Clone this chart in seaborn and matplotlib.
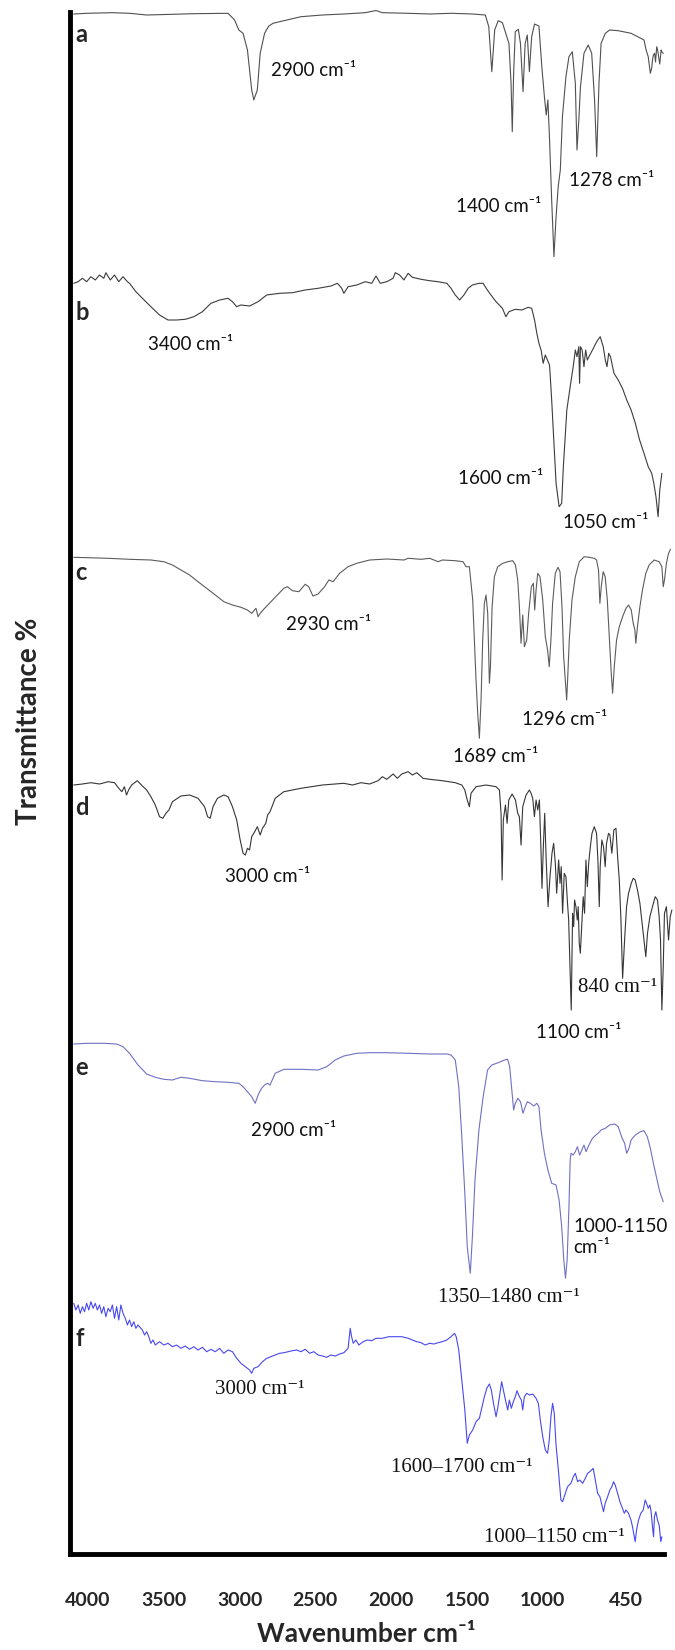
import numpy as np
import pandas as pd
import matplotlib
matplotlib.use("Agg")
import matplotlib.pyplot as plt
import seaborn as sns

# ---------------- data ----------------
samples = ["a", "b", "c", "d", "e", "f"]
# vertical offsets used to stack the six spectra (a.u.)
offsets = [1254, 1004, 734, 484, 234, -16]
colors = ["#505050", "#3c3c3c", "#5c5c5c", "#363636", "#7070c4", "#4848f0"]

wn_a = [4094, 4009, 3839, 3726, 3613, 3443, 3302, 3076, 3033, 3005, 2977, 2948, 2920, 2906, 2883,
        2864, 2835, 2807, 2779, 2736, 2595, 2453, 2312, 2171, 2100, 2058, 1888, 1746, 1605, 1464,
        1379, 1356, 1336, 1317, 1294, 1266, 1237, 1223, 1209, 1201, 1192, 1181, 1161, 1147, 1130,
        1116, 1102, 1088, 1073, 1054, 1025, 1006, 989, 977, 966, 955, 941, 926, 912, 898, 884, 870,
        847, 827, 805, 785, 774, 762, 751, 728, 700, 677, 658, 644, 629, 615, 587, 559, 502, 417,
        332, 318, 304, 298, 290, 281, 276, 270, 262, 256, 248, 242, 234, 228, 219, 214, 205]
tr_a = [286, 286.7, 287.3, 286.7, 285, 285.7, 286.3, 286.7, 280, 270, 266.7, 250, 210, 200, 210,
        246.7, 266.7, 274, 276.7, 278.3, 283.3, 285, 286, 287.3, 289.5, 287.3, 286.7, 286, 286.7, 286,
        285, 273.3, 228.3, 270, 279.3, 277.3, 263.3, 256.7, 216.7, 168.3, 226.7, 268.3, 270.7, 256.7, 208.3,
        256.7, 265, 228.3, 263.3, 276, 274, 233.3, 203.3, 185, 200, 160, 100, 43.3, 83.3, 113.3, 130, 183.3,
        223.3, 243.3, 248.3, 216.7, 150, 180, 213.3, 246.7, 255, 246.7, 200, 143.3, 216.7, 256.7, 266.7, 270, 269.3, 266.7,
        260, 250, 243.3, 236, 226.7, 232, 240, 245, 246.7, 238, 253.3, 250, 241.7, 236, 250, 248, 246.7]

wn_b = [4094, 4065, 4037, 4009, 3981, 3952, 3924, 3896, 3882, 3853, 3825, 3797, 3769, 3740, 3726,
        3684, 3641, 3585, 3528, 3472, 3415, 3358, 3302, 3245, 3189, 3132, 3076, 3047, 3019, 2991,
        2934, 2878, 2821, 2736, 2651, 2567, 2482, 2397, 2355, 2326, 2312, 2284, 2227, 2171, 2128,
        2100, 2072, 2029, 1987, 1973, 1944, 1916, 1888, 1860, 1803, 1746, 1690, 1633, 1605, 1577,
        1548, 1520, 1492, 1464, 1421, 1393, 1373, 1350, 1308, 1266, 1243, 1223, 1181, 1138, 1096,
        1073, 1054, 1039, 1025, 1011, 997, 983, 969, 955, 941, 926, 912, 892, 875, 864, 841, 819,
        799, 785, 774, 762, 757, 751, 740, 728, 717, 706, 695, 672, 644, 621, 601, 587, 576, 565,
        553, 530, 502, 474, 446, 417, 389, 361, 332, 304, 281, 267, 253, 239, 228, 214]
tr_b = [266.7, 268.3, 271.7, 268.3, 273.3, 270, 275, 271.7, 277.3, 270, 275, 268.3, 273.3, 268.3, 266.7,
        258.3, 251.7, 243.3, 235, 230, 230, 230.7, 233.3, 238.3, 246.7, 250, 251.7, 248.3, 243.3, 245,
        244, 248.3, 255, 256.7, 257.3, 260, 261.7, 264, 266.7, 261.7, 256.7, 263.3, 265, 268.3, 266.7,
        274, 266.7, 268.3, 271.7, 277.3, 275, 270, 276.7, 272.7, 270.7, 269.3, 268.3, 266.7, 261.7, 255,
        250, 255, 261.7, 265, 266.7, 266.7, 261.7, 256.7, 248.3, 241.7, 233.3, 238.3, 240.7, 240, 242.7,
        241.7, 230, 216.7, 206.7, 200, 186.7, 195, 190, 185, 150, 106.7, 66.7, 43.3, 46.7, 83.3, 140, 163.3,
        183.3, 200, 193.3, 203.3, 166.7, 203.3, 200, 183.3, 200, 190, 193.3, 200, 208.3, 213.3, 203.3, 190, 183.3, 196.7,
        193.3, 176.7, 170, 161.7, 150, 140, 126.7, 110, 96.7, 83.3, 76.7, 66.7, 53.3, 33.3, 60, 76.7]

wn_c = [4094, 4009, 3867, 3726, 3585, 3500, 3443, 3387, 3330, 3274, 3217, 3160, 3104, 3047, 2991,
        2948, 2920, 2892, 2878, 2864, 2835, 2793, 2750, 2708, 2685, 2651, 2609, 2567, 2544, 2516,
        2482, 2439, 2411, 2383, 2340, 2284, 2227, 2142, 2029, 1916, 1888, 1803, 1746, 1690, 1662,
        1577, 1526, 1506,
        1484, 1473, 1462, 1451, 1440, 1429, 1418, 1407, 1396, 1385, 1374, 1363, 1352, 1345, 1334,
        1319, 1297, 1264, 1231, 1198, 1180, 1165, 1154, 1143, 1132, 1121, 1106, 1093, 1075, 1062,
        1053, 1044, 1033, 1018, 1000, 983, 968, 957, 946, 935, 917, 899, 886, 873, 862, 851, 842,
        834, 825, 807, 785, 759, 726, 693, 660, 645, 632, 623, 614, 601, 588, 574, 561, 548, 539,
        528, 513, 495, 473, 451, 434, 416, 403, 392, 386, 375, 359, 342, 320, 298, 265, 232, 214,
        205, 197, 184, 170, 157]
tr_c = [262.7, 262.3, 261.7, 260.7, 260, 258.3, 255, 250, 245, 238.3, 231.7, 225, 218.3, 215, 212.7,
        210, 206.7, 211.7, 203.3, 206.7, 211.7, 218.3, 225, 231.7, 233.3, 229.3, 228.3, 235.7, 233.3, 224,
        226, 233.3, 240, 238.3, 246.7, 253.3, 256.7, 260, 261, 260, 261.7, 260.7, 261.7, 258.3, 260,
        259.3, 258.3, 253.3,
        253.3, 236.7, 220, 180, 140, 106.7, 81.7, 120, 180, 216.7, 225, 206.7, 136.7, 153.3, 213.3,
        243.3, 253.3, 256.7, 258.3, 259.3, 255, 240, 213.3, 176.7, 205, 173.3, 180, 206.7, 233.3, 236.7,
        210, 230, 246.7, 243.3, 220, 183.3, 170, 153.3, 180, 216.7, 246.7, 252.7, 248.3, 213.3, 163.3, 140, 120,
        146.7, 180, 220, 243.3, 258.3, 263.3, 262.7, 261.7, 260, 250, 216.7, 233.3, 248.3, 243.3, 220, 183.3, 146.7, 126.7,
        153.3, 180, 193.3, 203.3, 211.7, 215, 210, 196.7, 190, 176.7, 193.3, 213.3, 230, 246.7, 255, 260, 258.3, 253.3,
        233.3, 240, 256.7, 266.7, 270.7]

wn_d = [4094, 4037, 3981, 3924, 3867, 3825, 3797, 3777, 3760, 3746, 3732, 3712, 3675, 3641, 3613,
        3585, 3556, 3528, 3506, 3486, 3466, 3443, 3387, 3330, 3274, 3231, 3211, 3194, 3175, 3146,
        3104, 3076, 3047, 3019, 2996, 2977, 2962, 2948, 2934, 2920, 2900, 2883, 2864, 2849, 2827,
        2815, 2799, 2765, 2708, 2595, 2453, 2312, 2255, 2199, 2142, 2086, 2058, 2029, 1987, 1959,
        1930, 1888, 1860, 1831, 1789, 1746, 1662, 1577, 1534, 1514, 1498,
        1484, 1473, 1440, 1374, 1308, 1286, 1275, 1268, 1260, 1246, 1235, 1224, 1202, 1180, 1165,
        1154, 1143, 1132, 1110, 1088, 1077, 1066, 1055, 1044, 1033, 1022, 1011, 1005, 996, 987,
        978, 965, 952, 939, 928, 917, 908, 895, 886, 878, 869, 858, 847, 838, 829, 820, 812, 803,
        796, 790, 781, 772, 766, 759, 752, 741, 733, 724, 715, 706, 697, 686, 675, 660, 645, 636,
        627, 621, 610, 599, 588, 579, 566, 557, 544, 531, 517, 506, 495, 484, 473, 460, 447, 434,
        416, 403, 390, 375, 359, 342, 320, 309, 293, 276, 258, 243, 232, 223, 214, 205, 197, 184,
        170, 159, 148]
tr_d = [285, 286, 287.3, 286, 288.3, 287.3, 281.7, 278.3, 283.3, 275, 280, 285, 289.3, 284, 280,
        273.3, 265, 253.3, 251.7, 256.7, 260, 268.3, 274, 275, 271.7, 263.3, 253.3, 251.7, 263.3, 271.7,
        275, 273.3, 263.3, 250, 230, 216.7, 215, 221.7, 220, 233.3, 238.3, 243.3, 235, 241.7, 246.7,
        255, 258.3, 271.7, 278.3, 281.7, 285, 286.7, 285, 287.3, 286, 289.3, 293.3, 290.7, 296, 291.7,
        296, 298.3, 295, 297.3, 291.7, 290.7, 289.3, 287.3, 285, 280, 270,
        263.3, 276.7, 283.3, 285, 283.3, 280, 256.7, 190, 250, 265, 246.7, 270, 276, 270, 256.7,
        253.3, 225, 263.3, 275, 280, 276.7, 271.7, 253.3, 270, 260, 270, 216.7, 181.7, 223.3, 256.7,
        213.3, 163.3, 193.3, 216.7, 226.7, 206.7, 176.7, 210, 186.7, 203.3, 156.7, 196.7, 193.3, 170, 150, 103.3, 60, 156.7,
        143.3, 170, 163.3, 150, 163.3, 126.7, 116.7, 150, 173.3, 156.7, 210, 183.3, 206.7, 223.3, 236.7, 243.3, 236.7, 210,
        163.3, 203.3, 230, 223.3, 203.3, 226.7, 236.7, 235, 216.7, 240, 241.7, 213.3, 190, 150, 91.7, 130, 163.3, 176.7,
        186.7, 191.7, 190, 180, 166.7, 143.3, 113.3, 136.7, 153.3, 163.3, 173.3, 170, 153.3, 130, 60, 103.3, 156.7, 163.3,
        130, 153.3, 160]

wn_e = [4094, 4009, 3896, 3811, 3769, 3726, 3670, 3613, 3556, 3500, 3443, 3387, 3330, 3245, 3160,
        3076, 3005, 2977, 2948, 2920, 2897, 2878, 2855, 2835, 2815, 2799, 2765, 2708, 2595, 2482,
        2425, 2369, 2312, 2227, 2142, 2029, 1888, 1746, 1633, 1605, 1577, 1554, 1534, 1514, 1498,
        1478, 1464, 1447, 1421, 1393, 1364, 1336, 1294, 1252, 1232, 1218, 1204, 1192, 1181, 1164,
        1147, 1130, 1119, 1102, 1082, 1059, 1039, 1025, 1011, 989, 966, 941, 912, 892, 875, 861,
        850, 839, 827, 819, 813, 799, 785, 771, 757, 742, 728, 714, 695, 672, 649, 635, 615, 587,
        559, 525, 502, 480, 460, 446, 431, 417, 389, 355, 332, 310, 290, 270, 248, 228, 205]
tr_e = [276, 276.7, 276.7, 276, 273.3, 266.7, 255, 246, 242.7, 240.7, 240, 242.7, 241.7, 239.3, 238.3,
        237.7, 236.7, 233.3, 228.3, 223.3, 216.7, 225, 231.7, 235, 236.7, 235, 246.7, 250.7, 250.7, 250,
        253.3, 260, 264, 266.7, 267.3, 267.3, 266.7, 266, 266, 265, 260, 233.3, 183.3, 126.7, 73.3,
        46.7, 83.3, 140, 190, 223.3, 250, 255, 257.3, 260, 260.7, 253.3, 230, 210, 216.7, 221.7,
        218.3, 206.7, 211.7, 218.3, 216.7, 214, 216.7, 213.3, 190, 166.7, 150, 136.7, 135, 120, 93.3, 60,
        41.7, 60, 113.3, 160, 166.7, 165, 168.3, 173.3, 165, 170, 175, 168.3, 175, 181.7, 185, 186.7, 190, 191.7,
        195, 196, 193.3, 183.3, 176.7, 166.7, 171.7, 180, 185, 188.3, 189.3, 183.3, 171.7, 156.7, 141.7, 128.3, 118.3]

wn_f = [4094, 4080, 4065, 4051, 4037, 4023, 4009, 3995, 3981, 3966, 3952, 3938, 3924, 3910, 3896,
        3882, 3867, 3853, 3839, 3825, 3811, 3797, 3783, 3769, 3754, 3740, 3726, 3712, 3698, 3684,
        3670, 3641, 3627, 3613, 3599, 3585, 3571, 3556, 3528, 3500, 3472, 3443, 3415, 3387, 3358,
        3330, 3302, 3274, 3245, 3217, 3189, 3160, 3132, 3104, 3076, 3047, 3019, 2991, 2962, 2934,
        2920, 2906, 2878, 2849, 2821, 2793, 2765, 2736, 2708, 2680, 2651, 2623, 2595, 2567, 2538,
        2510, 2482, 2453, 2425, 2397, 2369, 2340, 2312, 2284, 2270, 2261, 2250, 2233, 2213, 2185,
        2157, 2128, 2100, 2058, 2015, 1973, 1930, 1888, 1860, 1831, 1803, 1775, 1746, 1718, 1690,
        1662, 1633, 1605, 1582, 1571, 1554, 1534, 1514, 1498,
        1484, 1462, 1440, 1418, 1400, 1385, 1369, 1352, 1339, 1325, 1308, 1297, 1281, 1271, 1260,
        1246, 1231, 1220, 1207, 1194, 1181, 1170, 1154, 1141, 1132, 1121, 1106, 1088, 1066, 1044,
        1029, 1016, 1000, 983, 968, 957, 946, 935, 924, 913, 895, 880, 869, 851, 836, 814, 798,
        785, 770, 755, 737, 719, 704, 689, 667, 653, 638, 623, 610, 599, 588, 572, 557, 544, 533,
        522, 506, 491, 478, 462, 451, 434, 418, 408, 396, 390, 381, 368, 353, 337, 324, 315, 304,
        293, 285, 276, 269, 263, 254, 243, 232, 221, 214]
tr_f = [266.7, 260, 265, 256.7, 263.3, 258.3, 266.7, 260, 268.3, 261.7, 266.7, 260, 265, 256.7, 263.3,
        253.3, 261.7, 258.3, 265, 251.7, 263.3, 250, 265, 256.7, 251.7, 245, 250, 243.3, 248.3, 241.7,
        245, 240, 235, 238.3, 233.3, 226.7, 230, 225, 228.3, 225, 226.7, 223.3, 225, 221.7, 224,
        220.7, 223.3, 220, 222.7, 218.3, 220.7, 218.3, 221.7, 216.7, 220, 218.3, 211.7, 206.7, 203.3, 200,
        196.7, 201.7, 203.3, 208.3, 211.7, 213.3, 215, 216.7, 217.3, 218.3, 219.3, 220, 218.3, 220.7, 216.7,
        218.3, 215, 214, 212.7, 215, 214, 216, 217.3, 221.7, 241.7, 233.3, 226.7, 230, 225, 228.3,
        230, 229.3, 231.7, 231.7, 233.3, 233.3, 233.3, 231.7, 230, 228.3, 227.3, 225, 226.7, 226, 227.3,
        228.3, 230, 233.3, 236.7, 233.3, 220, 190, 160, 126.7,
        135, 140, 148.3, 151.7, 163.3, 173.3, 181.7, 186, 180, 166.7, 153.3, 161.7, 178.3, 188.3, 180,
        170, 160, 170, 161.7, 168.3, 173.3, 179.3, 173.3, 170, 160, 173.3, 176.7, 175, 176, 171.7,
        166.7, 150, 133.3, 120, 116.7, 130, 153.3, 166.7, 156.7, 126.7, 96.7, 70, 68.3, 76.7, 83.3, 86.7, 93.3,
        96.7, 88.3, 90, 86.7, 91.7, 96.7, 98.3, 101.7, 90, 76.7, 73.3, 65, 58.3, 66.7, 73.3, 80, 83.3, 88.3,
        85, 76.7, 68.3, 63.3, 56.7, 60, 56.7, 50, 43.3, 33.3, 28.3, 40, 50, 56.7, 60, 70, 66.7, 61.7,
        65, 58.3, 43.3, 33.3, 53.3, 58.3, 50, 45, 28.3, 33.3]

wavenumbers = [wn_a, wn_b, wn_c, wn_d, wn_e, wn_f]
transmittance = [tr_a, tr_b, tr_c, tr_d, tr_e, tr_f]

tick_values = [4000, 3500, 3000, 2500, 2000, 1500, 1000, 450]
tick_labels = ["4000", "3500", "3000", "2500", "2000", "1500", "1000", "450"]
tick_marks = [3522, 2971, 2420, 1894, 1359, 819, 228]

# panel letters: (letter, wavenumber, stacked height)
panel_letters = [("a", 4085, 1512), ("b", 4085, 1234), ("c", 4085, 974),
                 ("d", 4085, 739), ("e", 4085, 479), ("f", 4085, 208)]

# band annotations: (text, wavenumber, stacked height, font kind)
annotations = [
    ("2900 cm\u207b\u00b9", 2510, 1483, "sans"),
    ("1400 cm\u207b\u00b9", 1294, 1347, "sans"),
    ("1278 cm\u207b\u00b9", 544, 1374, "sans"),
    ("3400 cm\u207b\u00b9", 3322, 1210, "sans"),
    ("1600 cm\u207b\u00b9", 1280, 1076, "sans"),
    ("1050 cm\u207b\u00b9", 587, 1031, "sans"),
    ("2930 cm\u207b\u00b9", 2411, 929, "sans"),
    ("1296 cm\u207b\u00b9", 856, 834, "sans"),
    ("1689 cm\u207b\u00b9", 1308, 797, "sans"),
    ("3000 cm\u207b\u00b9", 2815, 677, "sans"),
    ("840 cm\u207b\u00b9", 506, 566, "serif"),
    ("1100 cm\u207b\u00b9", 765, 521, "sans"),
    ("2900 cm\u207b\u00b9", 2643, 424, "sans"),
    ("1350\u20131480 cm\u207b\u00b9", 1223, 256, "serif"),
    ("3000 cm\u207b\u00b9", 2864, 164, "serif"),
    ("1600\u20131700 cm\u207b\u00b9", 1534, 86, "serif"),
    ("1000\u20131150 cm\u207b\u00b9", 926, 16, "serif"),
]
# two-line sans label of spectrum e (left aligned)
label_e_block = ("1000-1150\ncm\u207b\u00b9", 799, 317)

# ---------------- build long table ----------------
frames = []
for s, wn, tr, off in zip(samples, wavenumbers, transmittance, offsets):
    frames.append(pd.DataFrame({"sample": s, "wavenumber": wn,
                                "stacked": np.asarray(tr, dtype=float) + off}))
df = pd.concat(frames, ignore_index=True)

# ---------------- plot ----------------
sns.set_style("white")
SANS = ["Lato", "DejaVu Sans"]
SERIF = ["Liberation Serif", "DejaVu Serif"]
plt.rcParams["font.family"] = SANS

fig = plt.figure(figsize=(6.75, 16.5), dpi=100)
ax = fig.add_axes([69.5 / 675, 1 - 1554 / 1650, (664 - 69.5) / 675, (1554 - 12) / 1650])

sns.lineplot(data=df, x="wavenumber", y="stacked", hue="sample", hue_order=samples,
             palette=dict(zip(samples, colors)), sort=False, estimator=None,
             legend=False, linewidth=0.8, ax=ax)
for line in ax.lines:
    line.set_clip_on(False)

ax.set_xlim(4122, 200)
ax.set_ylim(0, 1542)

for side in ["top", "right"]:
    ax.spines[side].set_visible(False)
for side in ["left", "bottom"]:
    ax.spines[side].set_linewidth(3.5)
    ax.spines[side].set_color("black")

ax.set_yticks([])
ax.set_xticks(tick_values)
ax.set_xticklabels(tick_labels, fontsize=14, fontweight="bold", family=SANS)
ax.set_xticks(tick_marks, minor=True)
ax.tick_params(axis="x", which="major", length=0, pad=27)
ax.tick_params(axis="x", which="minor", length=9, width=3, direction="out", color="black")

ax.set_xlabel("Wavenumber cm\u207b\u00b9", fontsize=19, fontweight="bold", family=SANS)
ax.xaxis.label.set_va("center")
ax.xaxis.set_label_coords(0.5, -(1634 - 1554) / 1542)
ax.set_ylabel("Transmittance %", fontsize=20, fontweight="bold", family=SANS)
ax.yaxis.label.set_va("center")
ax.yaxis.set_label_coords((29 - 69.5) / 594.5, (1554 - 721) / 1542)

for letter, xw, yh in panel_letters:
    ax.text(xw, yh, letter, fontsize=17, fontweight="bold", family=SANS,
            ha="left", va="baseline")

for text, xw, yh, kind in annotations:
    if kind == "sans":
        ax.text(xw, yh, text, fontsize=13.5, family=SANS, ha="center", va="center", color="#111111")
    else:
        ax.text(xw, yh, text, fontsize=15, family=SERIF, ha="center", va="center", color="#111111")

txt, xw, yh = label_e_block
ax.text(xw, yh, txt, fontsize=13.5, family=SANS, ha="left", va="center",
        linespacing=1.35, color="#111111")

fig.savefig("out.png", dpi=100)
